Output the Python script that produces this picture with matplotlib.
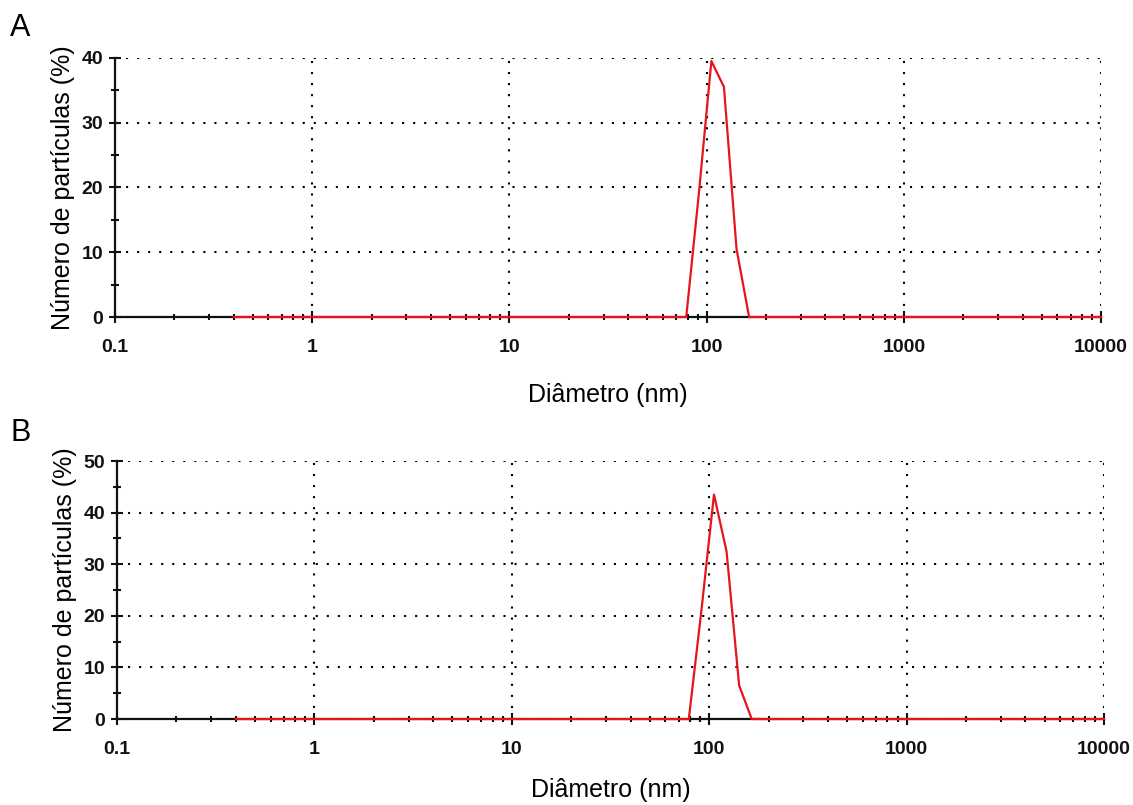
import matplotlib.pyplot as plt
import numpy as np

plt.rcParams['font.family'] = ['Liberation Sans', 'DejaVu Sans']

# size classes (nm) where the distribution changes
d_a = [0.4, 78.82, 91.28, 105.7, 122.4, 141.8, 164.2, 10000]
n_a = [0, 0, 19, 39.5, 35.5, 10.5, 0, 0]

d_b = [0.4, 78.82, 91.28, 105.7, 122.4, 141.8, 164.2, 10000]
n_b = [0, 0, 21, 43.5, 32.5, 6.5, 0, 0]

panels = [('A', d_a, n_a, 40, [0.1015, 0.6062, 0.8703, 0.322], 0.965, 20),
          ('B', d_b, n_b, 50, [0.1033, 0.1068, 0.8711, 0.3205], 0.462, 15)]

fig = plt.figure(figsize=(11.33, 8.05), dpi=100)

for letter, d, n, ymax, rect, ly, xpad in panels:
    ax = fig.add_axes(rect)
    ax.set_xscale('log')
    ax.set_xlim(0.1, 10000)
    ax.set_ylim(0, ymax)
    ax.plot(d, n, color='#e8141b', lw=1.6, zorder=5, clip_on=False)

    ax.set_xticks([0.1, 1, 10, 100, 1000, 10000])
    ax.set_xticklabels(['0.1', '1', '10', '100', '1000', '10000'])
    ax.set_yticks(np.arange(0, ymax + 1, 10))
    ax.set_yticks(np.arange(5, ymax, 10), minor=True)

    ax.grid(True, which='major', color='black', linestyle=(0, (1, 4.3)), lw=1.5)
    for s in ['top', 'right']:
        ax.spines[s].set_visible(False)
    for s in ['left', 'bottom']:
        ax.spines[s].set_linewidth(1.6)
        ax.spines[s].set_color('#111111')
    ax.tick_params(which='major', direction='inout', length=9, width=1.5,
                   labelsize=14, colors='#111111', pad=4)
    ax.tick_params(which='minor', direction='inout', length=6, width=1.5,
                   colors='#111111')
    ax.tick_params(axis='x', which='minor', length=5)
    ax.tick_params(axis='x', which='major', pad=11)
    for lab in ax.get_xticklabels() + ax.get_yticklabels():
        lab.set_fontweight('bold')

    ax.set_xlabel('Diâmetro (nm)', fontsize=18, labelpad=xpad)
    ax.set_ylabel('Número de partículas (%)', fontsize=18, labelpad=5)
    fig.text(0.009, ly, letter, fontsize=22, va='center')

fig.savefig('out.png', dpi=100)
